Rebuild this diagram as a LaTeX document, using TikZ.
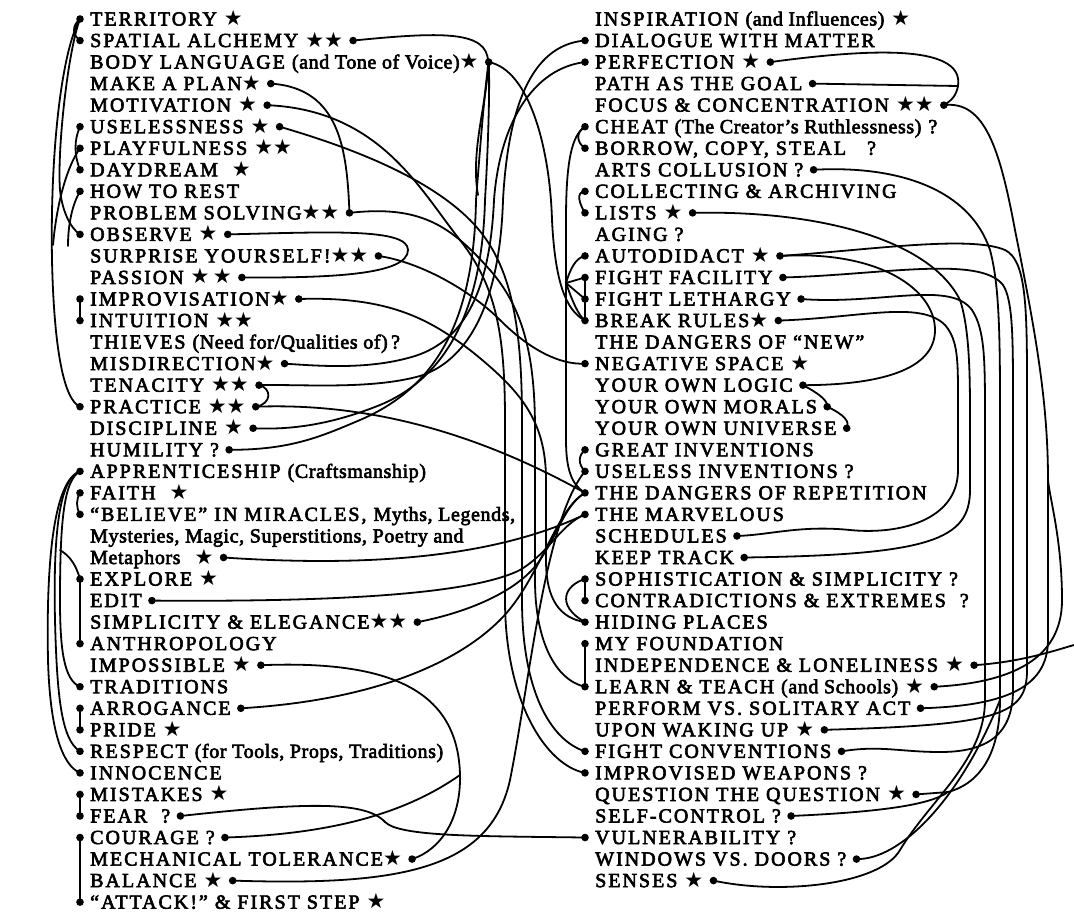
\documentclass[tikz,border=0pt]{standalone}
\usepackage{fontspec}
\setmainfont{Liberation Serif}
\newfontfamily\labfont[LetterSpace=10,FakeBold=3]{Liberation Serif}
\newfontfamily\starfont{DejaVu Sans}
\newcommand\st{{\starfont\fontsize{21}{21}\selectfont ★}}
\newcommand\lc[1]{{\addfontfeature{LetterSpace=3}#1}}
\tikzset{
  item/.style={anchor=west, inner xsep=10pt, inner ysep=0pt, text height=13pt, text depth=0pt,
    font=\labfont\fontsize{20}{22}\selectfont},
  link/.style={line width=1.8pt, line cap=round},
}

\begin{document}
\begin{tikzpicture}[x=1pt,y=-1pt]
  % Canvas
  \fill[white] (0,0) rectangle (1074,913);
  \useasboundingbox (0,0) rectangle (1074,913);
  % Left column
  \foreach \nm/\i/\txt in {territory/0/{TERRITORY \st}, alchemy/1/{SPATIAL ALCHEMY \st\st},
      body/2/{BODY LANGUAGE \lc{(and Tone of Voice)}\st}, plan/3/{MAKE A PLAN\st},
      motiv/4/{MOTIVATION \st}, useless/5/{USELESSNESS \st}, playful/6/{PLAYFULNESS \st\st},
      daydream/7/{DAYDREAM \ \st}, rest/8/{HOW TO REST}, problem/9/{PROBLEM SOLVING\st\st},
      observe/10/{OBSERVE \st}, surprise/11/{SURPRISE YOURSELF!\st\st}, passion/12/{PASSION \st\,\st},
      improv/13/{IMPROVISATION\st}, intuition/14/{INTUITION \st\st},
      thieves/15/{THIEVES \lc{(Need for/Qualities of)}\,?}, misdir/16/{MISDIRECTION\st},
      tenacity/17/{TENACITY \st\st}, practice/18/{PRACTICE \st\st}, discipline/19/{DISCIPLINE \st},
      humility/20/{HUMILITY ?}, apprentice/21/{APPRENTICESHIP \lc{(Craftsmanship)}},
      faith/22/{FAITH \ \st}, believe/23/{“BELIEVE” IN MIRACLES, \lc{Myths, Legends,}},
      myths/24/{\lc{Mysteries, Magic, Superstitions, Poetry and}}, metaphors/25/{\lc{Metaphors}\ \ \st},
      explore/26/{EXPLORE \st}, edit/27/{EDIT}, simplicity/28/{SIMPLICITY \& ELEGANCE\st\st},
      anthro/29/{ANTHROPOLOGY}, impossible/30/{IMPOSSIBLE \st}, traditions/31/{TRADITIONS},
      arrogance/32/{ARROGANCE}, pride/33/{PRIDE \st},
      respect/34/{RESPECT \lc{(for Tools, Props, Traditions)}}, innocence/35/{INNOCENCE},
      mistakes/36/{MISTAKES \st}, fear/37/{FEAR \ ?}, courage/38/{COURAGE ?},
      mechanical/39/{MECHANICAL TOLERANCE\st}, balance/40/{BALANCE \st},
      attack/41/{“ATTACK!” \& FIRST STEP \st}}
    \node[item] (\nm) at (80,{19+21.54*\i}) {\txt};
  % Right column
  \foreach \nm/\i/\txt in {inspiration/0/{INSPIRATION \lc{(and Influences)} \st},
      dialogue/1/{DIALOGUE WITH MATTER}, perfection/2/{PERFECTION \st}, path/3/{PATH AS THE GOAL},
      focus/4/{FOCUS \& CONCENTRATION \st\st}, cheat/5/{CHEAT \lc{(The Creator’s Ruthlessness)} ?},
      borrow/6/{BORROW, COPY, STEAL \ \ ?}, collusion/7/{ARTS COLLUSION ?},
      collect/8/{COLLECTING \& ARCHIVING}, lists/9/{LISTS \st}, aging/10/{AGING ?},
      autodidact/11/{AUTODIDACT \st}, facility/12/{FIGHT FACILITY}, lethargy/13/{FIGHT LETHARGY},
      rules/14/{BREAK RULES\st}, new/15/{THE DANGERS OF “NEW”}, negative/16/{NEGATIVE SPACE \st},
      logic/17/{YOUR OWN LOGIC}, morals/18/{YOUR OWN MORALS}, universe/19/{YOUR OWN UNIVERSE},
      great/20/{GREAT INVENTIONS}, uselessinv/21/{USELESS INVENTIONS ?},
      repetition/22/{THE DANGERS OF REPETITION}, marvelous/23/{THE MARVELOUS},
      schedules/24/{SCHEDULES}, track/25/{KEEP TRACK},
      sophist/26/{SOPHISTICATION \& SIMPLICITY ?}, contra/27/{CONTRADICTIONS \& EXTREMES \ ?},
      hiding/28/{HIDING PLACES}, foundation/29/{MY FOUNDATION},
      independence/30/{INDEPENDENCE \& LONELINESS \st}, learn/31/{LEARN \& TEACH \lc{(and Schools)} \st},
      perform/32/{PERFORM VS. SOLITARY ACT}, waking/33/{UPON WAKING UP \st},
      conventions/34/{FIGHT CONVENTIONS}, weapons/35/{IMPROVISED WEAPONS ?},
      question/36/{QUESTION THE QUESTION \st}, selfcontrol/37/{SELF-CONTROL ?},
      vulnerability/38/{VULNERABILITY ?}, windows/39/{WINDOWS VS. DOORS ?}, senses/40/{SENSES \st}}
    \node[item] (\nm) at (585,{19+21.54*\i}) {\txt};
  % Free ends
  \coordinate (pjoin) at (53,245);
  \coordinate (rstub) at (68,246);
  \coordinate (hook) at (60,550);
  \coordinate (hub) at (566,283);
  \coordinate (stub) at (478,195);
  \coordinate (edge) at (1074,645);
  % Left margin
  \draw[link] (territory.west) .. controls (72,26) and (72,34) .. (alchemy.west);
  \draw[link] (territory.west) .. controls (68,50) and (57,150) .. (60,190) .. controls (62,210) and (70,228) .. (observe.west);
  \draw[link] (territory.west) .. controls (62,50) and (50,150) .. (52,260) .. controls (54,350) and (64,400) .. (practice.west);
  \draw[link] (playful.west) .. controls (68,165) and (57,200) .. (pjoin);
  \draw[link] (rest.west) .. controls (72,205) and (68,225) .. (rstub);
  \draw[link] (useless.west) .. controls (74,140) and (74,155) .. (daydream.west);
  \draw[link] (improv.west) -- (intuition.west);
  \draw[link] (apprentice.west) .. controls (64,480) and (60,520) .. (60,600) .. controls (60,650) and (64,680) .. (traditions.west);
  \draw[link] (apprentice.west) .. controls (60,478) and (53,530) .. (55,620) .. controls (57,700) and (62,740) .. (respect.west);
  \draw[link] (apprentice.west) .. controls (54,480) and (46,560) .. (48,660) .. controls (50,730) and (62,765) .. (innocence.west);
  \draw[link] (faith.west) .. controls (76,500) and (76,507) .. (believe.west);
  \draw[link] (hook) .. controls (70,556) and (76,565) .. (explore.west) -- (anthro.west);
  \draw[link] (arrogance.west) -- (pride.west);
  \draw[link] (mistakes.west) -- (fear.west);
  \draw[link] (courage.west) -- (attack.west);
  % Left items, short links
  \draw[link] (plan.east) .. controls (340,88) and (347,150) .. (problem.east);
  \draw[link] (observe.east) .. controls (330,232) and (408,228) .. (408,250) .. controls (408,275) and (330,278) .. (passion.east);
  \draw[link] (tenacity.east) .. controls (272,388) and (272,404) .. (practice.east);
  % S bundle
  \draw[link] (alchemy.east) .. controls (440,32) and (488,30) .. (488,62) .. controls (488,100) and (470,150) .. (stub);
  \draw[link] (dialogue.west) .. controls (530,45) and (508,110) .. (503,200) .. controls (500,300) and (470,360) .. (420,376) .. controls (370,390) and (300,384) .. (tenacity.east);
  \draw[link] (perfection.west) .. controls (535,68) and (500,120) .. (494,200) .. controls (490,290) and (465,340) .. (415,356) .. controls (370,370) and (320,366) .. (misdir.east);
  \draw[link] (body.east) .. controls (490,90) and (488,150) .. (485,200) .. controls (482,320) and (440,380) .. (380,405) .. controls (330,425) and (290,430) .. (discipline.east);
  \draw[link] (body.east) .. controls (484,95) and (480,150) .. (476,200) .. controls (474,330) and (430,390) .. (360,420) .. controls (320,437) and (290,450) .. (humility.east);
  \draw[link] (body.east) .. controls (530,70) and (550,150) .. (552,220) .. controls (555,280) and (565,310) .. (rules.west);
  % Middle crossings
  \draw[link] (motiv.east) .. controls (380,110) and (420,190) .. (460,240) .. controls (495,285) and (505,330) .. (505,420) -- (505,600) .. controls (505,700) and (545,765) .. (weapons.west);
  \draw[link] (useless.east) .. controls (360,150) and (430,180) .. (470,220) .. controls (510,260) and (522,320) .. (522,420) -- (522,600) .. controls (522,690) and (550,740) .. (conventions.west);
  \draw[link] (problem.east) .. controls (420,205) and (450,225) .. (490,270) .. controls (525,310) and (535,360) .. (535,430) -- (535,580) .. controls (535,640) and (555,680) .. (learn.west);
  \draw[link] (improv.east) .. controls (390,296) and (430,320) .. (470,350) .. controls (520,390) and (546,420) .. (546,480) -- (546,560) .. controls (546,600) and (560,618) .. (hiding.west);
  \draw[link] (surprise.east) .. controls (420,262) and (470,290) .. (500,320) .. controls (530,350) and (560,365) .. (negative.west);
  \draw[link] (practice.east) .. controls (380,402) and (490,440) .. (repetition.west);
  \draw[link] (metaphors.east) .. controls (380,568) and (500,555) .. (marvelous.west);
  \draw[link] (edit.east) .. controls (330,602) and (470,595) .. (520,570) .. controls (550,552) and (560,525) .. (marvelous.west);
  \draw[link] (simplicity.east) .. controls (470,612) and (520,590) .. (540,560) .. controls (560,530) and (565,505) .. (repetition.west);
  \draw[link] (arrogance.east) .. controls (380,700) and (460,660) .. (500,620) .. controls (540,580) and (555,510) .. (repetition.west);
  \draw[link] (impossible.east) .. controls (390,660) and (458,690) .. (460,775) coordinate (impjoin) .. controls (461,820) and (440,850) .. (mechanical.east);
  \draw[link] (courage.east) .. controls (340,834) and (410,810) .. (impjoin);
  \draw[link] (fear.east) .. controls (300,803) and (365,800) .. (385,822) .. controls (400,837) and (480,836) .. (vulnerability.west);
  \draw[link] (balance.east) .. controls (400,886) and (490,870) .. (510,780) .. controls (530,680) and (545,520) .. (uselessinv.west);
  \draw[link] (cheat.west) .. controls (572,135) and (566,160) .. (566,220) -- (566,440) .. controls (566,470) and (572,485) .. (repetition.west);
  % Right column, left side
  \draw[link] (cheat.west) .. controls (576,132) and (576,142) .. (borrow.west);
  \draw[link] (collect.west) .. controls (575,192) and (580,205) .. (lists.west);
  \draw[link] (hub) .. controls (570,270) and (575,258) .. (autodidact.west);
  \draw[link] (hub) -- (facility.west);
  \draw[link] (hub) -- (lethargy.west);
  \draw[link] (hub) .. controls (572,300) and (578,315) .. (rules.west);
  \draw[link] (facility.west) -- (rules.west);
  \draw[link] (great.west) .. controls (578,456) and (578,464) .. (uselessinv.west);
  \draw[link] (sophist.west) -- (contra.west);
  \draw[link] (sophist.west) .. controls (565,585) and (555,605) .. (hiding.west);
  \draw[link] (foundation.west) -- (learn.west);
  % Right column, right side
  \draw[link] (perfection.east) .. controls (860,50) and (965,42) .. (958,86) coordinate (arcpt) .. controls (956,96) and (952,100) .. (focus.east);
  \draw[link] (path.east) -- (arcpt);
  \draw[link] (logic.east) .. controls (822,395) and (828,402) .. (morals.east) .. controls (845,415) and (850,422) .. (universe.east);
  \draw[link] (autodidact.east) .. controls (880,250) and (935,290) .. (935,330) .. controls (935,370) and (880,385) .. (logic.east);
  % Right margin
  \draw[link] (rules.east) .. controls (860,318) and (920,300) .. (945,325) .. controls (958,340) and (958,360) .. (958,400) -- (958,470) .. controls (958,520) and (900,535) .. (850,530) .. controls (800,525) and (770,535) .. (schedules.east);
  \draw[link] (lists.east) .. controls (820,210) and (930,240) .. (960,300) .. controls (970,330) and (970,380) .. (970,420) -- (970,490) .. controls (970,540) and (930,555) .. (track.east);
  \draw[link] (lethargy.east) .. controls (880,305) and (950,280) .. (972,310) .. controls (985,330) and (985,360) .. (985,420) -- (985,700) .. controls (985,760) and (930,800) .. (900,850) coordinate (sjoin) .. controls (880,885) and (780,895) .. (senses.east);
  \draw[link] (collusion.east) .. controls (900,165) and (970,190) .. (990,250) .. controls (998,280) and (1000,320) .. (1000,400) -- (1000,700) coordinate (qv) .. controls (1000,760) and (975,785) .. (948,792) coordinate (qjoin) -- (question.east);
  \draw[link] (facility.east) .. controls (880,275) and (980,255) .. (1003,285) .. controls (1013,300) and (1013,340) .. (1013,400) -- (1013,690) .. controls (1013,740) and (980,752) .. (940,752) .. controls (900,752) and (880,745) .. (conventions.east);
  \draw[link] (autodidact.east) .. controls (870,250) and (970,235) .. (1005,250) .. controls (1025,260) and (1027,300) .. (1027,380) -- (1027,670) .. controls (1027,715) and (1000,725) .. (waking.east);
  \draw[link] (focus.east) .. controls (985,100) and (1000,150) .. (1015,230) .. controls (1035,330) and (1048,400) .. (1048,480) coordinate (focusjoin) -- (1048,640) .. controls (1048,690) and (1000,706) .. (perform.east);
  \draw[link] (learn.east) .. controls (1010,683) and (1062,660) .. (1062,600) .. controls (1062,540) and (1050,500) .. (focusjoin);
  \draw[link] (independence.east) .. controls (1020,662) and (1050,652) .. (edge);
  \draw[link] (selfcontrol.east) .. controls (880,812) and (930,805) .. (qjoin);
  \draw[link] (windows.east) .. controls (900,860) and (960,800) .. (qv);
  % Dots
  \foreach \a in {territory.west, alchemy.west, useless.west, playful.west, daydream.west, rest.west,
      observe.west, improv.west, intuition.west, practice.west, apprentice.west, faith.west,
      believe.west, explore.west, anthro.west, traditions.west, arrogance.west, pride.west,
      respect.west, innocence.west, mistakes.west, fear.west, courage.west, attack.west,
      alchemy.east, body.east, plan.east, motiv.east, useless.east, problem.east, observe.east,
      surprise.east, passion.east, improv.east, misdir.east, tenacity.east, practice.east,
      discipline.east, humility.east, metaphors.east, edit.east, simplicity.east, impossible.east,
      arrogance.east, fear.east, courage.east, mechanical.east, balance.east,
      dialogue.west, perfection.west, cheat.west, borrow.west, collect.west, lists.west,
      autodidact.west, facility.west, lethargy.west, rules.west, negative.west, great.west,
      uselessinv.west, repetition.west, marvelous.west, sophist.west, contra.west, hiding.west,
      foundation.west, learn.west, conventions.west, weapons.west, vulnerability.west,
      perfection.east, path.east, focus.east, collusion.east, lists.east, autodidact.east,
      facility.east, lethargy.east, rules.east, logic.east, morals.east, universe.east,
      schedules.east, track.east, independence.east, learn.east, perform.east, waking.east,
      conventions.east, question.east, selfcontrol.east, windows.east, senses.east}
    \fill (\a) circle (3.8);
\end{tikzpicture}
\end{document}
